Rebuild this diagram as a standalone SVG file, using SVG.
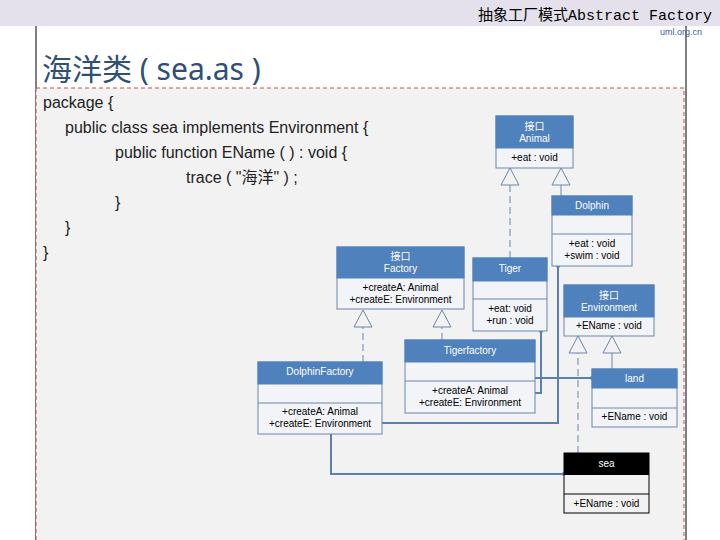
<svg xmlns="http://www.w3.org/2000/svg" width="720" height="540" viewBox="0 0 720 540">
<defs>
<style>
.h{fill:#4f81bd;stroke:#4f81bd}
.b{fill:#f2f4f8;stroke:#6d86ad;stroke-width:1}
.ht{font:10px "Liberation Sans","Noto Sans CJK SC",sans-serif;fill:#fff;text-anchor:middle}
.bt{font:10px "Liberation Sans",sans-serif;fill:#000;text-anchor:middle}
.code{font:16px "Liberation Sans","Noto Sans CJK SC",sans-serif;fill:#222}
.tri{fill:#f2f2f2;stroke:#6d86ad}
.d{stroke:#6d86ad;fill:none;stroke-dasharray:7,4}
.s{stroke:#6d86ad;fill:none}
.a{stroke:#5b80b0;fill:none;stroke-width:2}
</style>
</defs>
<rect width="720" height="540" fill="#fff"/>
<rect width="720" height="26" fill="#e4e1ec"/>
<text x="712" y="20" font-family="'Liberation Mono','Noto Sans CJK SC',monospace" font-size="15" text-anchor="end" fill="#000">抽象工厂模式Abstract Factory</text>
<line x1="36" y1="26" x2="36" y2="540" stroke="#000"/>
<line x1="686" y1="26" x2="686" y2="540" stroke="#000"/>
<text x="660" y="35" font-family="'Liberation Sans',sans-serif" font-size="9" fill="#3a5ca8">uml.org.cn</text>
<text x="42" y="80" font-family="'Noto Sans','Noto Sans CJK SC',sans-serif" font-size="30" fill="#2e4f78">海洋类 ( sea.as )</text>
<rect x="36" y="88" width="648" height="460" fill="#f2f2f2" stroke="#c0504d" stroke-dasharray="4,3"/>
<g class="code">
<text x="43" y="108">package {</text>
<text x="65" y="133">public class sea implements Environment {</text>
<text x="115" y="158">public function EName ( ) : void {</text>
<text x="186" y="183">trace ( "海洋" ) ;</text>
<text x="115" y="208">}</text>
<text x="65" y="233">}</text>
<text x="43" y="258">}</text>
</g>
<g id="connectors">
<path class="d" d="M510 258V185"/><path class="tri" d="M510 168L501 185H519Z"/>
<path class="s" d="M561 196V185"/><path class="tri" d="M561 168L552 185H570Z"/>
<path class="d" d="M363 362V327"/><path class="tri" d="M363 310L354 327H372Z"/>
<path class="d" d="M442 340V327"/><path class="tri" d="M442 310L433 327H451Z"/>
<path class="d" d="M578 453V353"/><path class="tri" d="M578 336L569 353H587Z"/>
<path class="s" d="M612 369V353"/><path class="tri" d="M612 336L603 353H621Z"/>
<path class="a" d="M535 393H541V331"/><circle cx="541" cy="331" r="2" fill="#5b80b0"/>
<path class="a" d="M535 378H592"/><circle cx="592" cy="378" r="2" fill="#5b80b0"/>
<path class="a" d="M382 423H558V266"/><circle cx="558" cy="266" r="2" fill="#5b80b0"/>
<path class="a" d="M331 434V474H564"/><circle cx="564" cy="474" r="2" fill="#5b80b0"/>
</g>
<g id="Animal"><rect class="b" x="496" y="116" width="77" height="52"/><rect class="h" x="496" y="116" width="77" height="32"/>
<text class="ht" x="534.5" y="130">接口</text><text class="ht" x="534.5" y="142">Animal</text><text class="bt" x="534.5" y="161">+eat : void</text></g>
<g id="Dolphin"><rect class="b" x="552" y="196" width="80" height="70"/><path class="s" d="M552 234H632"/><rect class="h" x="552" y="196" width="80" height="19"/>
<text class="ht" x="592" y="209">Dolphin</text><text class="bt" x="592" y="247">+eat : void</text><text class="bt" x="592" y="259">+swim : void</text></g>
<g id="Factory"><rect class="b" x="337" y="247" width="127" height="62"/><rect class="h" x="337" y="247" width="127" height="31"/>
<text class="ht" x="400.5" y="260">接口</text><text class="ht" x="400.5" y="272">Factory</text><text class="bt" x="400.5" y="291">+createA: Animal</text><text class="bt" x="400.5" y="303">+createE: Environment</text></g>
<g id="Tiger"><rect class="b" x="473" y="258" width="74" height="73"/><path class="s" d="M473 299H547"/><rect class="h" x="473" y="258" width="74" height="23"/>
<text class="ht" x="510" y="272">Tiger</text><text class="bt" x="510" y="312">+eat: void</text><text class="bt" x="510" y="324">+run : void</text></g>
<g id="Environment"><rect class="b" x="564" y="285" width="90" height="51"/><rect class="h" x="564" y="285" width="90" height="32"/>
<text class="ht" x="609" y="299">接口</text><text class="ht" x="609" y="311">Environment</text><text class="bt" x="609" y="329">+EName : void</text></g>
<g id="Tigerfactory"><rect class="b" x="405" y="340" width="130" height="73"/><path class="s" d="M405 381H535"/><rect class="h" x="405" y="340" width="130" height="22"/>
<text class="ht" x="470" y="354">Tigerfactory</text><text class="bt" x="470" y="394">+createA: Animal</text><text class="bt" x="470" y="406">+createE: Environment</text></g>
<g id="DolphinFactory"><rect class="b" x="258" y="362" width="124" height="72"/><path class="s" d="M258 403H382"/><rect class="h" x="258" y="362" width="124" height="22"/>
<text class="ht" x="320" y="375">DolphinFactory</text><text class="bt" x="320" y="415">+createA: Animal</text><text class="bt" x="320" y="427">+createE: Environment</text></g>
<g id="land"><rect class="b" x="592" y="369" width="85" height="58"/><path class="s" d="M592 408H677"/><rect class="h" x="592" y="369" width="85" height="19"/>
<text class="ht" x="634.5" y="382">land</text><text class="bt" x="634.5" y="420">+EName : void</text></g>
<g id="sea"><rect x="564" y="453" width="85" height="60" fill="#f2f2f2" stroke="#000"/><path d="M564 494H649" stroke="#000"/><rect x="564" y="453" width="85" height="22" fill="#000"/>
<text class="ht" x="606.5" y="467">sea</text><text class="bt" x="606.5" y="507">+EName : void</text></g>
</svg>
